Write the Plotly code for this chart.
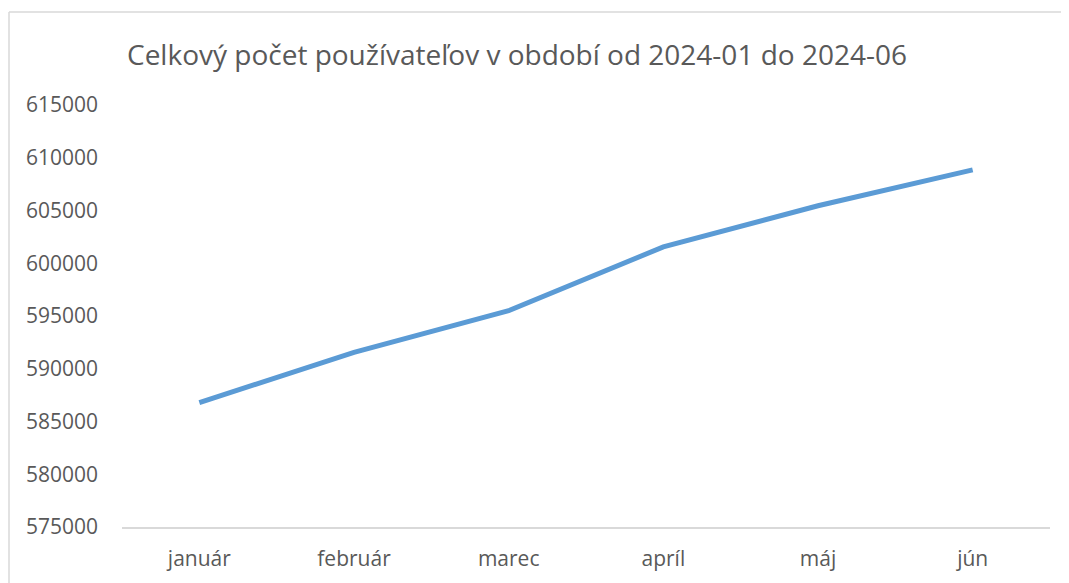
import plotly.graph_objects as go

months = ["január", "február", "marec", "apríl", "máj", "jún"]
users = [586800, 591550, 595500, 601550, 605450, 608850]
y_ticks = [575000, 580000, 585000, 590000, 595000, 600000, 605000, 610000, 615000]

TITLE = "Celkový počet používateľov v období od 2024-01 do 2024-06"

W, H = 1069, 583
# page body has an 8px margin, so everything is placed 8px up/left
OFF = 8
L, R, T, B = 122 - OFF, 19 + OFF, 105 - OFF, 56 + OFF
TEXT = "#595959"
FONT = "Open Sans"


def px_x(x):
    return (x - OFF - L) / (W - L - R)


def px_y(y):
    return (H - B - (y - OFF)) / (H - T - B)


fig = go.Figure()
fig.add_trace(
    go.Scatter(
        x=months,
        y=users,
        mode="lines",
        line={"color": "#5B9BD5", "width": 5},
        hoverinfo="x+y",
    )
)

fig.update_layout(
    width=W,
    height=H,
    margin={"l": L, "r": R, "t": T, "b": B, "autoexpand": False},
    paper_bgcolor="white",
    plot_bgcolor="white",
    showlegend=False,
    font={"family": FONT, "color": TEXT},
    title={
        "text": TITLE,
        "x": (517 - OFF) / W,
        "xanchor": "center",
        "y": 1 - (55 - OFF) / H,
        "yanchor": "middle",
        "font": {"size": 28, "color": TEXT, "family": FONT},
    },
    shapes=[
        # chart area border (left and top edges visible)
        dict(type="line", xref="paper", yref="paper",
             x0=px_x(9), x1=px_x(9), y0=px_y(12), y1=px_y(H + 20),
             line={"color": "#D9D9D9", "width": 1.5}),
        dict(type="line", xref="paper", yref="paper",
             x0=px_x(9), x1=px_x(W + 20), y0=px_y(12), y1=px_y(12),
             line={"color": "#D9D9D9", "width": 1.5}),
    ],
)

fig.update_xaxes(
    type="category",
    range=[-0.5, len(months) - 0.5],
    automargin=False,
    showline=True,
    linecolor="#D9D9D9",
    linewidth=1.5,
    showgrid=False,
    zeroline=False,
    ticks="",
    ticklen=0,
    ticklabelstandoff=12,
    tickfont={"size": 21, "color": TEXT, "family": FONT},
)
fig.update_yaxes(
    range=[575000, 615000],
    tickvals=y_ticks,
    ticktext=[str(v) for v in y_ticks],
    automargin=False,
    showline=False,
    showgrid=False,
    zeroline=False,
    ticks="",
    ticklabelstandoff=23,
    tickfont={"size": 21, "color": TEXT, "family": FONT},
)

fig.write_html("out.html")
